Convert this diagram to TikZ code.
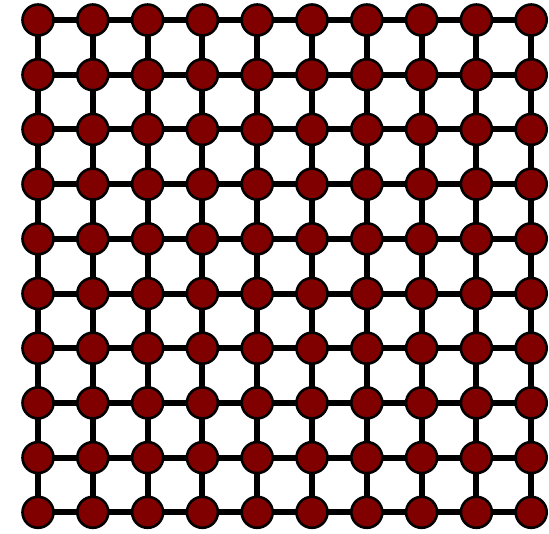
\documentclass[tikz,border=0pt]{standalone}
\definecolor{site}{RGB}{128,0,0}
\tikzset{
  site/.style={circle, draw=black, line width=2.6pt, fill=site, minimum size=31pt, inner sep=0pt},
  bond/.style={draw=black, line width=6pt}
}
\begin{document}
\begin{tikzpicture}[x=1pt,y=-1pt]
\useasboundingbox (0,0) rectangle (549,533);
\foreach \i in {0,...,9}{
  \foreach \j in {0,...,9}{
    \coordinate (c-\i-\j) at ({38+54.8*\i},{20+54.7*\j});
  }
}
% bonds
\foreach \i in {0,...,9}{
  \foreach \j [evaluate=\j as \k using int(\j+1)] in {0,...,8}{
    \draw[bond] (c-\i-\j) -- (c-\i-\k);
    \draw[bond] (c-\j-\i) -- (c-\k-\i);
  }
}
% sites
\foreach \i in {0,...,9}{
  \foreach \j in {0,...,9}{
    \node[site] (n-\i-\j) at (c-\i-\j) {};
  }
}
\end{tikzpicture}
\end{document}
